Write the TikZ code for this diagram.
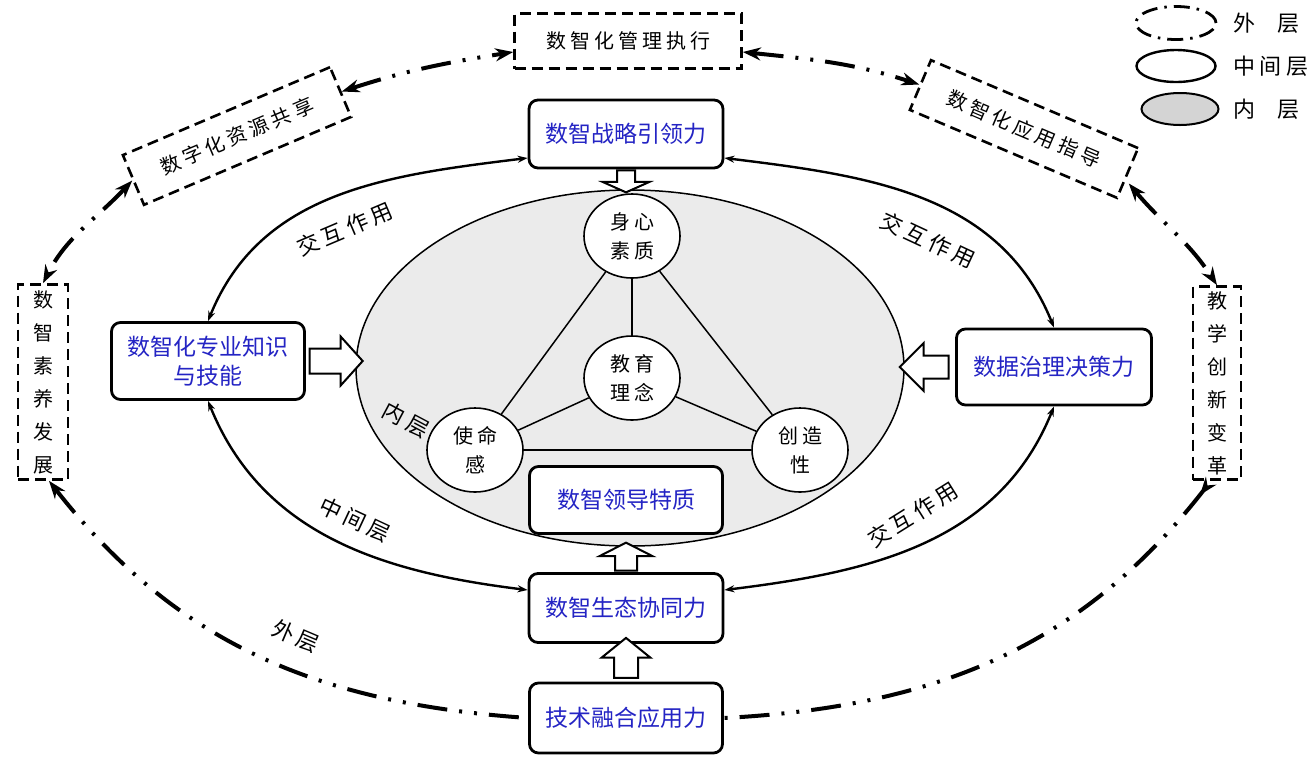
\documentclass[tikz,border=0pt]{standalone}
\usepackage{fontspec}
\newfontfamily\cjk{Noto Sans CJK SC}
\newfontfamily\cjksp[LetterSpace=20]{Noto Sans CJK SC}
\usetikzlibrary{arrows.meta,shapes.geometric,shapes.arrows,positioning}

\begin{document}
\begin{tikzpicture}[x=1pt,y=1pt,
    dbox/.style={draw,line width=2.6pt,dash pattern=on 11pt off 6pt,fill=white,inner sep=0pt,
      font=\cjksp\fontsize{20}{24}\selectfont},
    vbox/.style={dbox,align=center,font=\cjk\fontsize{20}{33}\selectfont},
    mbox/.style={draw,line width=2.8pt,rounded corners=9pt,fill=white,text=textblue,align=center,
      inner sep=0pt,font=\cjk\fontsize{23}{29}\selectfont},
    circ/.style={ellipse,draw,line width=1.6pt,fill=white,minimum width=96pt,minimum height=84pt,
      inner sep=0pt,align=center,font=\cjksp\fontsize{20}{29}\selectfont},
    hollow/.style={single arrow,draw,line width=2pt,fill=white,sloped,allow upside down,
      inner sep=0pt,midway},
    outlink/.style={line width=4pt,dash pattern=on 30pt off 12pt on 3pt off 12pt on 3pt off 12pt,
      >={Stealth[length=18pt,width=13pt]}},
    midlink/.style={line width=2.4pt,<->,>={Stealth[length=10pt,width=7pt]}},
    lbl/.style={font=\cjksp\fontsize{22}{24}\selectfont},
  ]
    \definecolor{textblue}{HTML}{2424C4}
    \definecolor{innergray}{HTML}{EBEBEB}
    \definecolor{legendgray}{HTML}{D4D4D4}
    \useasboundingbox (0,0) rectangle (1314,-756);

    % outer layer
    \node[dbox,minimum width=227pt,minimum height=55pt] (topx) at (628,-41) {数智化管理执行};
    \node[dbox,rotate=23,minimum width=225pt,minimum height=54pt] (tlx) at (237,-136) {数字化资源共享};
    \node[dbox,rotate=-23,minimum width=225pt,minimum height=54pt] (trx) at (1024,-129) {数智化应用指导};
    \node[vbox,minimum width=50pt,minimum height=195pt] (lx) at (43,-382) {数\\智\\素\\养\\发\\展};
    \node[vbox,minimum width=48pt,minimum height=193pt] (rx) at (1217,-383) {教\\学\\创\\新\\变\\革};

    % inner layer
    \node[ellipse,draw,line width=1.5pt,fill=innergray,minimum width=548pt,minimum height=356pt] (inner) at (630,-368) {};
    \node[circ] (mind) at (632,-236) {身心\\素质};
    \node[circ] (idea) at (632,-378) {教育\\理念};
    \node[circ] (mission) at (475,-450) {使命\\感};
    \node[circ] (create) at (800,-450) {创造\\性};
    \draw[line width=1.5pt] (mind) -- (idea);
    \draw[line width=1.5pt] (mind) -- (mission);
    \draw[line width=1.5pt] (mind) -- (create);
    \draw[line width=1.5pt] (idea) -- (mission);
    \draw[line width=1.5pt] (idea) -- (create);
    \draw[line width=1.5pt] (mission) -- (create);
    \node[lbl,rotate=-28] (innerlbl) at (406,-420) {内层};

    % middle layer
    \node[mbox,minimum width=194pt,minimum height=68pt] (strat) at (626,-134) {数智战略引领力};
    \node[mbox,minimum width=193pt,minimum height=77pt] (know) at (208,-361) {数智化专业知识\\与技能};
    \node[mbox,minimum width=195pt,minimum height=76pt] (data) at (1054,-367) {数据治理决策力};
    \node[mbox,minimum width=193pt,minimum height=67pt] (lead) at (626,-500) {数智领导特质};
    \node[mbox,minimum width=194pt,minimum height=69pt] (eco) at (626,-608) {数智生态协同力};
    \node[mbox,minimum width=193pt,minimum height=70pt] (tech) at (626,-718) {技术融合应用力};

    \path (strat.south) to node[hollow,minimum height=22pt,text height=8pt,text depth=8pt,
      single arrow head extend=14.5pt,single arrow tip angle=132] {} (strat.south |- inner.north);
    \path (know.east) to node[hollow,minimum height=53pt,text height=11.5pt,text depth=11.5pt,
      single arrow head extend=12pt,single arrow tip angle=96] {} (know.east -| inner.west);
    \path (data.west) to node[hollow,minimum height=49pt,text height=10.5pt,text depth=10.5pt,
      single arrow head extend=12.5pt,single arrow tip angle=90] {} (data.west -| inner.east);
    \path (eco.north) to node[hollow,minimum height=28pt,text height=10pt,text depth=10pt,
      single arrow head extend=15.5pt,single arrow tip angle=126] {} (eco.north |- inner.south);
    \path (tech.north) to node[hollow,minimum height=40pt,text height=11pt,text depth=11pt,
      single arrow head extend=12.5pt,single arrow tip angle=102] {} (eco.south);

    \draw[midlink] (know.north) to[out=68,in=187] ([yshift=-24pt]strat.west);
    \draw[midlink] ([yshift=-24pt]strat.east) to[out=-7,in=112] (data.north);
    \draw[midlink] (data.south) to[out=-112,in=7] ([yshift=18pt]eco.east);
    \draw[midlink] (know.south) to[out=-68,in=173] ([yshift=18pt]eco.west);
    \node[lbl,rotate=23] (lbltl) at (345,-229) {交互作用};
    \node[lbl,rotate=-25] (lbltr) at (928,-240) {交互作用};
    \node[lbl,rotate=-25] (lblmid) at (355,-520) {中间层};
    \node[lbl,rotate=32] (lblbr) at (913,-515) {交互作用};

    % outer links
    \draw[outlink,<->] (tlx.east) to[out=18,in=189] ([yshift=-11pt]topx.west);
    \draw[outlink,<->] ([yshift=-11pt]topx.east) to[out=-6,in=162] (trx.west);
    \draw[outlink,<->] ([yshift=-10pt]trx.east) to[out=-50,in=123] (rx.north);
    \draw[outlink,<->] (tlx.west) to[out=-133,in=63] (lx.north);
    \draw[outlink,{Stealth[length=18pt,width=13pt,reversed]}-] ([xshift=-6pt]rx.south) to[out=-128,in=3] (tech.east);
    \draw[outlink,<-] ([xshift=6pt]lx.south) to[out=-52,in=176] (tech.west);
    \node[lbl,rotate=-23] (lblout) at (296,-636) {外层};

    % legend
    \node[ellipse,draw,line width=2.8pt,dash pattern=on 16pt off 7pt on 2.5pt off 7pt,
      minimum width=80pt,minimum height=33pt] (lgout) at (1176,-23) {};
    \node[ellipse,draw,line width=2.4pt,minimum width=79pt,minimum height=32pt] (lgmid) at (1176,-66) {};
    \node[ellipse,draw,line width=2pt,fill=legendgray,minimum width=77pt,minimum height=32pt] (lgin) at (1180,-109) {};
    \node[lbl,anchor=west] (lgouttxt) at (1230,-23) {外\hspace{22pt}层};
    \node[lbl,anchor=west] (lgmidtxt) at (1230,-66) {中间层};
    \node[lbl,anchor=west] (lgintxt) at (1230,-109) {内\hspace{22pt}层};
\end{tikzpicture}
\end{document}
